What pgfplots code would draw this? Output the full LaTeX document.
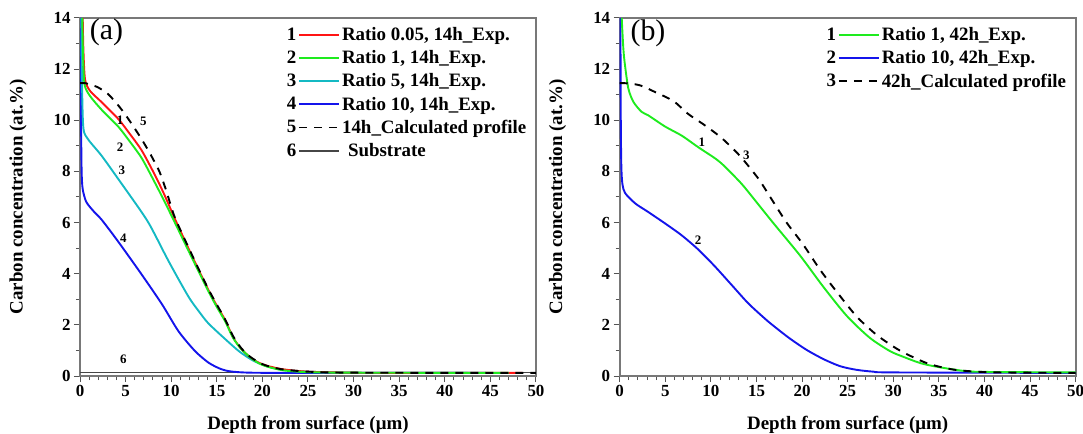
\documentclass[border=0pt]{standalone}
\usepackage{pgfplots}
\pgfplotsset{compat=1.18}
\usepackage{fontspec}
\setmainfont{Liberation Serif}

\definecolor{cRed}{RGB}{255,20,20}
\definecolor{cGreen}{RGB}{30,235,30}
\definecolor{cCyan}{RGB}{20,185,195}
\definecolor{cBlue}{RGB}{20,20,235}
\definecolor{cSub}{RGB}{70,70,70}
\definecolor{cFrame}{RGB}{120,120,120}

\tikzset{
  dsh/.style={black, dash pattern=on 8bp off 7bp},
  lab/.style={font=\fontsize{13}{13}\selectfont\bfseries},
}

\pgfplotsset{
  cc/.style={
    scale only axis, width=456bp, height=358bp,
    xmin=0, xmax=50, ymin=0, ymax=14,
    xtick={0,5,...,50}, ytick={0,2,...,14},
    minor x tick num=4, minor y tick num=1,
    tick align=outside, xtick pos=bottom, ytick pos=left,
    major tick length=6bp, minor tick length=4bp,
    axis line style={draw=cFrame, line width=1.6bp},
    every tick/.style={draw=cFrame!70!black, line width=1bp},
    tick label style={font=\fontsize{17}{17}\selectfont\bfseries},
    /pgf/number format/assume math mode=true,
    label style={font=\fontsize{19}{19}\selectfont\bfseries},
    xlabel={Depth from surface (μm)},
    ylabel={Carbon concentration (at.\%)},
    xlabel style={at={(axis description cs:0.5,-0.137)}, anchor=center},
    ylabel style={at={(axis description cs:-0.136,0.5)}, anchor=center},
    legend columns=2, legend cell align=left,
    legend style={draw=none, fill=none, at={(0.99,0.985)}, anchor=north east,
      font=\fontsize{19}{19}\selectfont\bfseries, row sep=4.5bp, column sep=0bp},
    legend image code/.code={\draw[line width=1.8bp,#1] (0bp,0bp) -- (40bp,0bp);},
    every axis plot/.append style={line width=1.9bp, smooth, tension=0.45},
  },
}

\begin{document}
\begin{tikzpicture}
% ---------------- (a) 14h ----------------
\begin{axis}[cc, at={(80bp,58bp)}, anchor=south west]
\addplot[cSub, line width=1.5bp, forget plot] coordinates {(0,0.13) (50,0.13)};
\addplot[cBlue, forget plot] coordinates {
(0.1,14) (0.12,10) (0.18,8) (0.3,7.3) (0.7,6.8) (1.6,6.4) (2.4,6.1) (4.2,5.25)
(6.8,3.95) (9.0,2.8) (10.8,1.75) (12.6,0.98) (14.1,0.52) (15.4,0.28) (16.5,0.18)
(18.7,0.13) (25,0.12) (44.5,0.12)};
\addplot[cCyan, forget plot] coordinates {
(0.15,14) (0.22,11.5) (0.37,9.7) (0.9,9.25) (2.4,8.6) (4.6,7.5) (5.3,7.15) (7.5,6.0)
(9.7,4.5) (11.9,3.1) (13.2,2.45) (14.1,2.05) (15.9,1.45) (17.5,0.95) (19,0.6)
(20.5,0.38) (22,0.26) (25,0.17) (30,0.13) (42.5,0.12)};
\addplot[cRed, forget plot] coordinates {
(0.3,14) (0.37,12.8) (0.55,11.6) (1.1,11.15) (2.4,10.7) (4.2,10.05) (5.5,9.45)
(6.8,8.8) (8.3,7.8) (9.3,7.05) (10.4,6.15) (12.3,4.68) (14.1,3.35) (15,2.75)
(15.9,2.2) (16.8,1.5) (17.7,1.05) (18.7,0.72) (19.6,0.52) (20.5,0.4) (22.3,0.26)
(25,0.17) (30,0.13) (40,0.12) (48.5,0.12)};
\addplot[cGreen, forget plot] coordinates {
(0.25,14) (0.33,12.6) (0.5,11.4) (1.1,10.95) (2.4,10.4) (4.2,9.75) (5.5,9.15)
(6.8,8.5) (8.3,7.5) (9.3,6.8) (10.4,6.0) (12.3,4.6) (14.1,3.3) (15,2.7) (15.9,2.15)
(16.8,1.48) (17.7,1.05) (18.7,0.72) (19.6,0.5) (20.5,0.37) (22.3,0.22) (25,0.15)
(30,0.13) (47,0.12)};
\addplot[dsh, forget plot] coordinates {
(0,11.45) (0.6,11.45) (1.9,11.3) (3.0,11.05) (3.8,10.75) (4.6,10.4) (5.4,10.0)
(6.6,9.35) (7.6,8.75) (8.7,8.0) (9.5,7.2) (10.4,6.2) (12.3,4.72) (14.1,3.38)
(15.9,2.22) (16.8,1.55) (17.7,1.08) (18.7,0.74) (20.1,0.45) (22,0.27) (25,0.17)
(30,0.13) (50,0.12)};
% legend: number, line sample, text
\addlegendimage{empty legend}\addlegendentry{1}
\addlegendimage{cRed}\addlegendentry{Ratio 0.05, 14h\_Exp.}
\addlegendimage{empty legend}\addlegendentry{2}
\addlegendimage{cGreen}\addlegendentry{Ratio 1, 14h\_Exp.}
\addlegendimage{empty legend}\addlegendentry{3}
\addlegendimage{cCyan}\addlegendentry{Ratio 5, 14h\_Exp.}
\addlegendimage{empty legend}\addlegendentry{4}
\addlegendimage{cBlue}\addlegendentry{Ratio 10, 14h\_Exp.}
\addlegendimage{empty legend}\addlegendentry{5}
\addlegendimage{dsh}\addlegendentry{14h\_Calculated profile}
\addlegendimage{empty legend}\addlegendentry{6}
\addlegendimage{cSub, line width=1.5bp}\addlegendentry{\hspace{6bp}Substrate}
\node[font=\fontsize{30}{30}\selectfont] at (axis cs:2.9,13.45) {(a)};
\node[lab] at (axis cs:4.4,10.0) {1};
\node[lab] at (axis cs:6.95,9.95) {5};
\node[lab] at (axis cs:4.4,8.95) {2};
\node[lab] at (axis cs:4.6,8.05) {3};
\node[lab] at (axis cs:4.75,5.4) {4};
\node[lab] at (axis cs:4.75,0.64) {6};
\end{axis}

% ---------------- (b) 42h ----------------
\begin{axis}[cc, at={(619.7bp,58bp)}, anchor=south west]
\addplot[cBlue, forget plot] coordinates {
(0.08,14) (0.12,10) (0.18,8.2) (0.3,7.5) (0.6,7.15) (1.7,6.75) (3.1,6.42) (5,5.96)
(6.8,5.5) (8.6,4.95) (10.4,4.3) (12.3,3.55) (14.1,2.84) (15.9,2.25) (16.8,1.98)
(18.6,1.48) (20.5,1.02) (22.4,0.65) (24.2,0.38) (26,0.24) (27.8,0.17) (30,0.14)
(50,0.12)};
\addplot[cGreen, forget plot] coordinates {
(0.22,14) (0.4,12.8) (0.58,12.15) (0.95,11.24) (1.5,10.72) (2.4,10.33) (3.1,10.2)
(5,9.75) (6.8,9.4) (8.6,8.95) (10.5,8.5) (11.5,8.2) (13.2,7.58) (14.1,7.2)
(16.8,6.0) (19.8,4.7) (22.3,3.5) (24.9,2.35) (27.4,1.5) (29.6,0.98) (31.1,0.75)
(33,0.5) (34.8,0.36) (37.7,0.2) (40,0.16) (50,0.14)};
\addplot[dsh, forget plot] coordinates {
(0,11.45) (0.6,11.45) (2.2,11.37) (3.9,11.1) (5.9,10.75) (7.5,10.25) (9.35,9.8)
(11.2,9.3) (13.2,8.6) (15.2,7.72) (16.5,7.0) (18.3,6.0) (20.1,5.15) (22.0,4.14)
(23.8,3.29) (26.0,2.32) (28.2,1.6) (30.7,1.0) (33.7,0.5) (36.6,0.25) (40.2,0.15)
(45,0.13) (50,0.12)};
\addlegendimage{empty legend}\addlegendentry{1}
\addlegendimage{cGreen}\addlegendentry{Ratio 1, 42h\_Exp.}
\addlegendimage{empty legend}\addlegendentry{2}
\addlegendimage{cBlue}\addlegendentry{Ratio 10, 42h\_Exp.}
\addlegendimage{empty legend}\addlegendentry{3}
\addlegendimage{dsh}\addlegendentry{42h\_Calculated profile}
\node[font=\fontsize{30}{30}\selectfont] at (axis cs:3.1,13.4) {(b)};
\node[lab] at (axis cs:9.0,9.15) {1};
\node[lab] at (axis cs:13.9,8.65) {3};
\node[lab] at (axis cs:8.6,5.3) {2};
\end{axis}
\pgfresetboundingbox
\useasboundingbox (0,0) rectangle (1083bp,434bp);
\end{tikzpicture}
\end{document}
